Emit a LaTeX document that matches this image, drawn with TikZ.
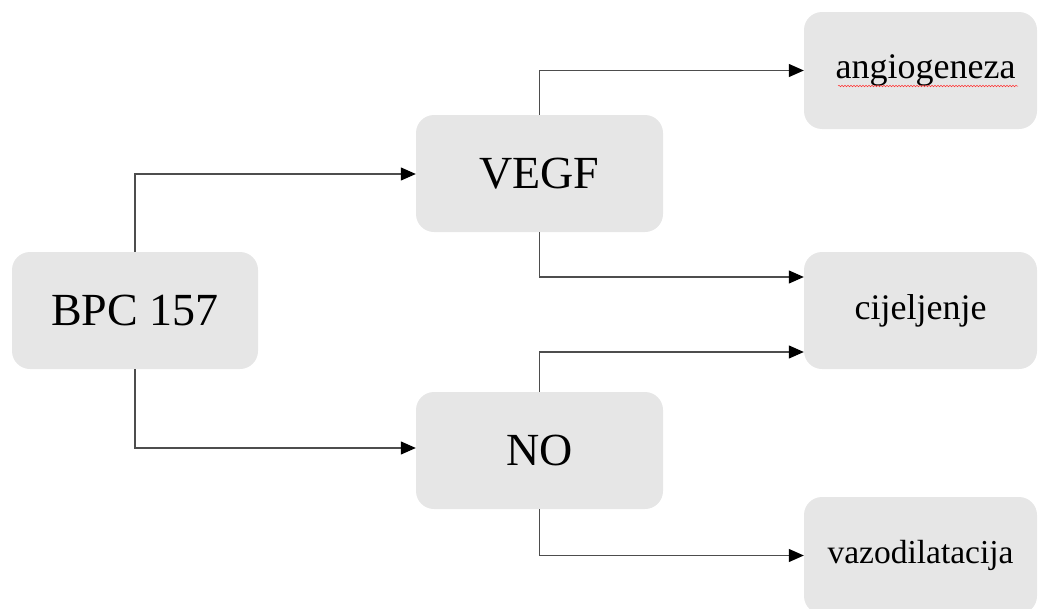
\documentclass[tikz,border=0pt]{standalone}
\usepackage{fontspec}
\setmainfont{Liberation Serif}
\usetikzlibrary{arrows.meta,decorations.pathmorphing}
\definecolor{boxfill}{HTML}{E6E6E6}
\definecolor{linegray}{HTML}{4D4D4D}
\tikzset{
  box/.style={rectangle, rounded corners=18pt, fill=boxfill, inner sep=0pt, minimum height=117pt},
  bigbox/.style={box, minimum width=247pt, font=\fontsize{46}{50}\selectfont},
  smallbox/.style={box, minimum width=233pt, font=\fontsize{36}{40}\selectfont},
  conn/.style={draw=linegray, line width=1.2pt, -{Triangle[length=15pt,width=13pt,color=black]}}
}
\begin{document}
\begin{tikzpicture}[x=1pt,y=-1pt]
\useasboundingbox (0,0) rectangle (1039,608);
\node[bigbox, minimum width=246pt] (bpc) at (135,310.5) {BPC 157};
\node[bigbox] (vegf) at (539.5,173.5) {VEGF};
\node[bigbox] (no) at (539.5,450.5) {NO};
\node[smallbox] (ang) at (920.5,70.5) {\hspace*{10pt}angiogeneza};
\node[smallbox] (cij) at (920.5,310.5) {cijeljenje};
\node[smallbox, font=\fontsize{33.5}{38}\selectfont] (vaz) at (920.5,555.5) {vazodilatacija};
\coordinate (cijA) at (cij.west |- 0,277);
\coordinate (cijB) at (cij.west |- 0,352);
\coordinate (noIn) at (no.west |- 0,448);
\coordinate (vegfIn) at (vegf.west |- 0,174);
\draw[conn] (bpc.north) |- (vegfIn);
\draw[conn] (bpc.south) |- (noIn);
\draw[conn] (vegf.north) |- (ang.west);
\draw[conn] (vegf.south) |- (cijA);
\draw[conn] (no.north) |- (cijB);
\draw[conn] (no.south) |- (vaz.west);
\coordinate (sqA) at (838,86);
\coordinate (sqB) at (1018,86);
\draw[red!80, line width=0.5pt, decorate, decoration={snake, amplitude=0.8pt, segment length=3pt}] (sqA) -- (sqB);
\end{tikzpicture}
\end{document}
